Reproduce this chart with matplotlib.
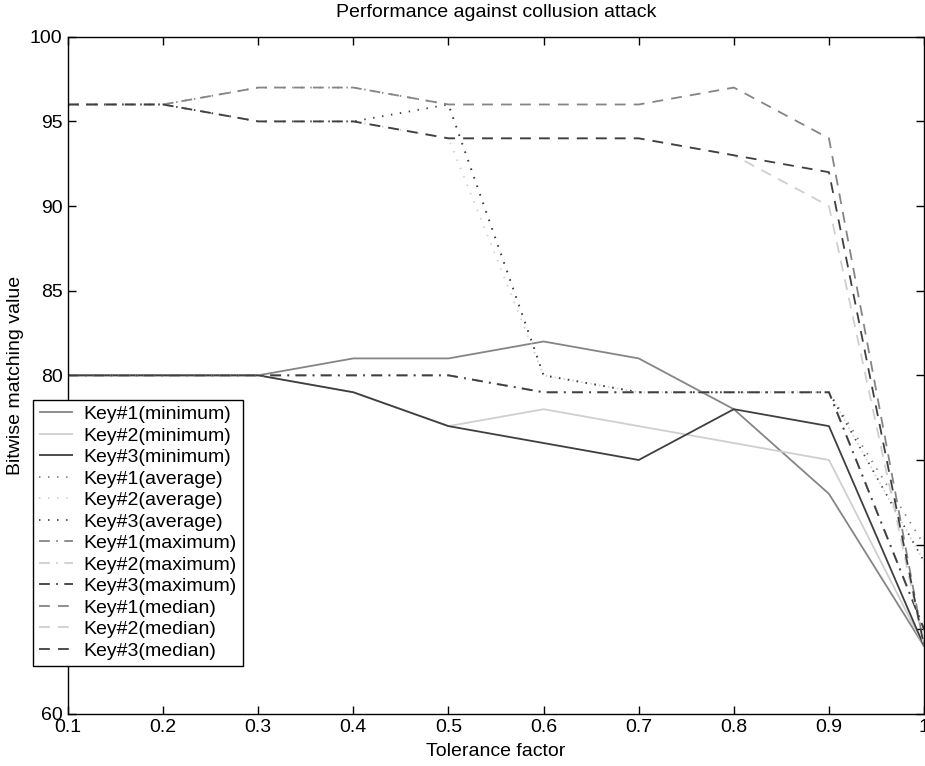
import matplotlib.pyplot as plt

plt.rcParams['font.family'] = ['Liberation Sans', 'DejaVu Sans']

# tolerance factor on the x axis
tolerance = [0.1, 0.2, 0.3, 0.4, 0.5, 0.6, 0.7, 0.8, 0.9, 1.0]

# bitwise matching values per key and statistic
key1_min = [80, 80, 80, 81, 81, 82, 81, 78, 73, 64]
key2_min = [80, 80, 80, 79, 77, 78, 77, 76, 75, 64]
key3_min = [80, 80, 80, 79, 77, 76, 75, 78, 77, 64]

key1_avg = [96, 96, 97, 97, 96, 80, 79, 79, 79, 70]
key2_avg = [96, 96, 95, 95, 94, 80, 79, 79, 79, 69]
key3_avg = [96, 96, 95, 95, 96, 80, 79, 79, 79, 69]

key1_max = [80, 80, 80, 80, 80, 79, 79, 79, 79, 65]
key2_max = [80, 80, 80, 80, 80, 79, 79, 79, 79, 65]
key3_max = [80, 80, 80, 80, 80, 79, 79, 79, 79, 65]

key1_med = [96, 96, 97, 97, 96, 96, 96, 97, 94, 64]
key2_med = [96, 96, 95, 95, 94, 94, 94, 93, 90, 64]
key3_med = [96, 96, 95, 95, 94, 94, 94, 93, 92, 64]

labels = ['Key#1(minimum)', 'Key#2(minimum)', 'Key#3(minimum)',
          'Key#1(average)', 'Key#2(average)', 'Key#3(average)',
          'Key#1(maximum)', 'Key#2(maximum)', 'Key#3(maximum)',
          'Key#1(median)', 'Key#2(median)', 'Key#3(median)']
series = [key1_min, key2_min, key3_min,
          key1_avg, key2_avg, key3_avg,
          key1_max, key2_max, key3_max,
          key1_med, key2_med, key3_med]

greys = ['#858585', '#cfcfcf', '#3f3f3f']
dash_styles = {
    'minimum': (0, ()),
    'average': (0, (0.8, 4.2)),
    'maximum': (0, (6, 3.5, 1, 3.5)),
    'median': (0, (6, 4.5)),
}

fig = plt.figure(figsize=(9.25, 7.66), dpi=100)
ax = fig.add_axes([0.0735, 0.068, 0.9255, 0.884])

for i, (lab, vals) in enumerate(zip(labels, series)):
    kind = lab.split('(')[1].rstrip(')')
    ax.plot(tolerance, vals, color=greys[i % 3], linestyle=dash_styles[kind],
            linewidth=1.3, label=lab)

ax.set_xlim(0.1, 1.0)
ax.set_ylim(60, 100)
ax.set_xticks([0.1, 0.2, 0.3, 0.4, 0.5, 0.6, 0.7, 0.8, 0.9, 1.0])
ax.set_xticklabels(['0.1', '0.2', '0.3', '0.4', '0.5', '0.6', '0.7', '0.8', '0.9', '1'])
ax.set_yticks([60, 65, 70, 75, 80, 85, 90, 95, 100])
ax.tick_params(direction='in', top=True, right=True, length=6, width=1,
               labelsize=14, pad=4)
for sp in ax.spines.values():
    sp.set_linewidth(1.0)

ax.set_title('Performance against collusion attack', fontsize=14, pad=14)
ax.set_xlabel('Tolerance factor', fontsize=14, labelpad=5)
ax.set_ylabel('Bitwise matching value', fontsize=14, labelpad=4)

leg = ax.legend(loc='upper left', bbox_to_anchor=(0.0357, 0.478),
                bbox_transform=fig.transFigure, fontsize=14, frameon=True,
                fancybox=False, edgecolor='black', framealpha=1,
                handlelength=1.75, handletextpad=0.55, labelspacing=0.2,
                borderpad=0.3, borderaxespad=0)
leg.get_frame().set_linewidth(1.0)

fig.savefig('out.png', dpi=100)
